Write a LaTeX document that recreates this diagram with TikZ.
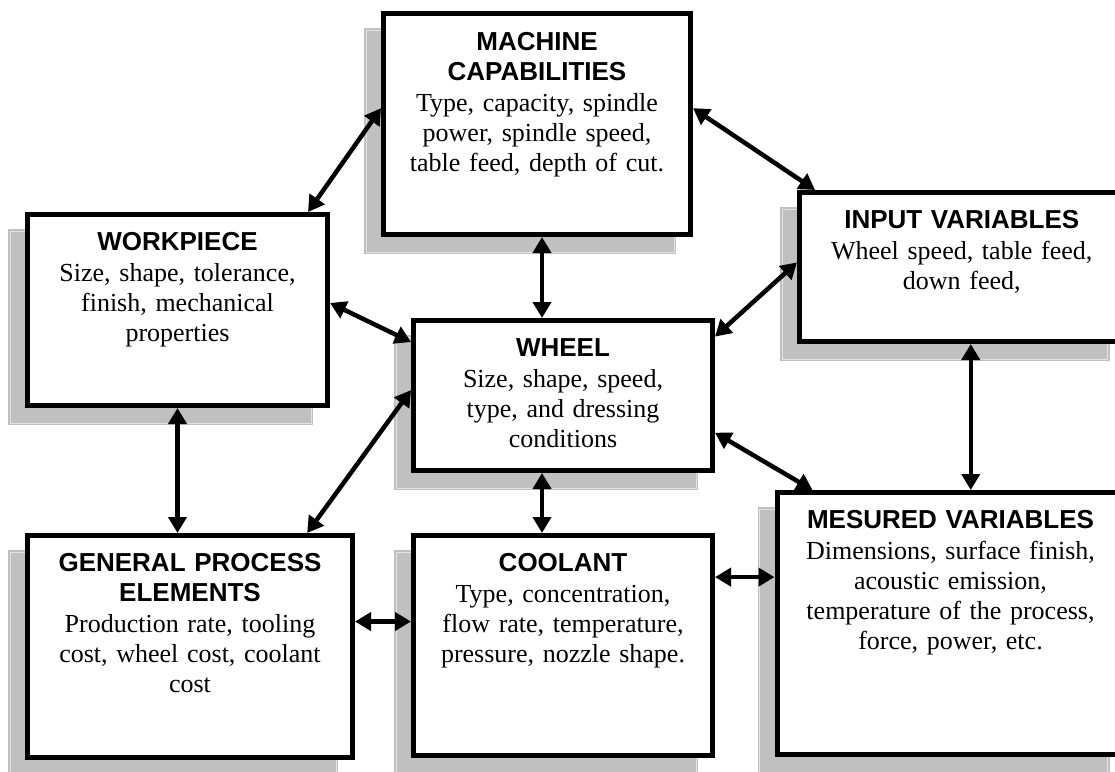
\documentclass[tikz,border=0pt]{standalone}
\usepackage{fontspec}
\setmainfont{Liberation Serif}
\newfontfamily\headfont{Liberation Sans}
\usetikzlibrary{arrows.meta,calc,backgrounds}
\definecolor{shadegray}{HTML}{C0C0C0}
\definecolor{shadeline}{HTML}{E2E2E2}
\tikzset{
	block/.style={draw,line width=5pt,fill=white,inner sep=0pt},
	blocktext/.style={anchor=north,inner sep=0pt,align=center,font=\fontsize{26}{30}\selectfont},
	link/.style={line width=4.5pt,{Triangle[length=16pt,width=18pt]}-{Triangle[length=16pt,width=18pt]}},
}
\newcommand{\hd}{\headfont\bfseries}
\newcommand{\bd}{\rmfamily\mdseries}
\begin{document}
\begin{tikzpicture}[x=1pt,y=-1pt]
		\useasboundingbox (0,0) rectangle (1115,771);
		% boxes
		\node[block,minimum width=307pt,minimum height=221pt] (mc) at (537,124) {};
		\node[block,minimum width=300pt,minimum height=191pt] (wp) at (177.5,310) {};
		\node[block,minimum width=324.5pt,minimum height=149pt] (iv) at (961.75,267) {};
		\node[block,minimum width=299pt,minimum height=150pt] (wh) at (563,395.5) {};
		\node[block,minimum width=325pt,minimum height=222pt] (gp) at (190,646.5) {};
		\node[block,minimum width=299pt,minimum height=220pt] (co) at (563,645.5) {};
		\node[block,minimum width=347pt,minimum height=262pt] (mv) at (950.5,623.5) {};
		% texts
		\node[blocktext,text width=297pt] (mc-t) at ([yshift=-21pt]mc.north) {\hd MACHINE\\CAPABILITIES\\[1pt]\bd Type, capacity, spindle\\power, spindle speed,\\table feed, depth of cut.};
		\node[blocktext,text width=290pt] (wp-t) at ([yshift=-20pt]wp.north) {\hd WORKPIECE\\[1pt]\bd Size, shape, tolerance,\\finish, mechanical\\properties};
		\node[blocktext,text width=314pt] (iv-t) at ([yshift=-20pt]iv.north) {\hd INPUT VARIABLES\\[1pt]\bd Wheel speed, table feed,\\down feed,};
		\node[blocktext,text width=289pt] (wh-t) at ([yshift=-20pt]wh.north) {\hd WHEEL\\[1pt]\bd Size, shape, speed,\\type, and dressing\\conditions};
		\node[blocktext,text width=315pt] (gp-t) at ([yshift=-20pt]gp.north) {\hd GENERAL PROCESS\\ELEMENTS\\[1pt]\bd Production rate, tooling\\cost, wheel cost, coolant\\cost};
		\node[blocktext,text width=289pt] (co-t) at ([yshift=-20pt]co.north) {\hd COOLANT\\[1pt]\bd Type, concentration,\\flow rate, temperature,\\pressure, nozzle shape.};
		\node[blocktext,text width=337pt] (mv-t) at ([yshift=-20pt]mv.north) {\hd MESURED VARIABLES\\[1pt]\bd Dimensions, surface finish,\\acoustic emission,\\temperature of the process,\\force, power, etc.};
		% shadows
		\begin{scope}[on background layer]
		\foreach \b in {mc,wp,iv,wh,gp,co,mv}{
			\fill[shadegray] ([shift={(-17,17)}]\b.north west) rectangle ([shift={(-17,17)}]\b.south east);
			\draw[shadeline,line width=1pt] ([shift={(-15,19)}]\b.north west) rectangle ([shift={(-19,15)}]\b.south east);
		}
		\end{scope}
		% links
		\coordinate (gp-e) at ($(gp.north east)!0.39!(gp.south east)$);
		\coordinate (co-e) at ($(co.north east)!0.196!(co.south east)$);
		\draw[link] ($(mc.north west)!0.43!(mc.south west)$)--($(wp.north west)!0.928!(wp.north east)$);
		\draw[link] ($(mc.north east)!0.43!(mc.south east)$)--($(iv.north west)!0.055!(iv.north east)$);
		\draw[link] ([xshift=-21pt]wh.north)--([xshift=-21pt]wh.north |- mc.south);
		\draw[link] ($(wp.north east)!0.464!(wp.south east)$)--($(wh.north west)!0.155!(wh.south west)$);
		\draw[link] (wp.south)--(wp.south |- gp.north);
		\draw[link] ($(wh.north west)!0.465!(wh.south west)$)--($(gp.north west)!0.855!(gp.north east)$);
		\draw[link] ($(wh.north east)!0.12!(wh.south east)$)--($(iv.north west)!0.47!(iv.south west)$);
		\draw[link] ($(wh.north east)!0.74!(wh.south east)$)--($(mv.north west)!0.108!(mv.north east)$);
		\draw[link] ([xshift=-21pt]wh.south)--([xshift=-21pt]wh.south |- co.north);
		\draw[link] ([xshift=9pt]iv.south)--([xshift=9pt]iv.south |- mv.north);
		\draw[link] (gp-e)--(gp-e -| co.west);
		\draw[link] (co-e)--(co-e -| mv.west);
		\end{tikzpicture}
\end{document}
